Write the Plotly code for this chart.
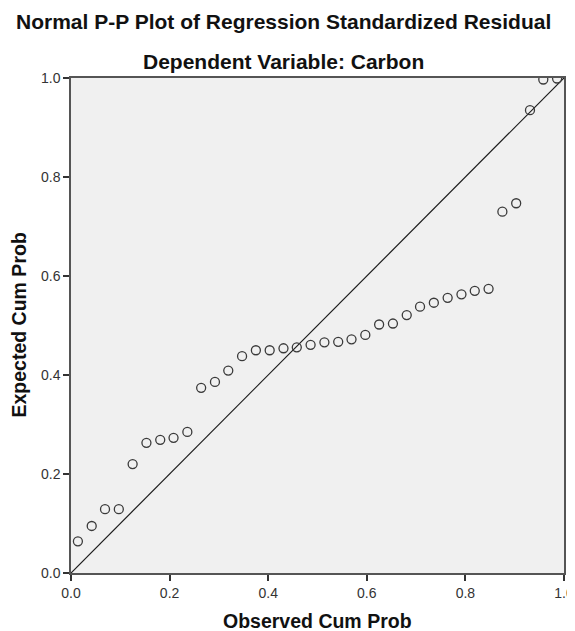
import plotly.graph_objects as go

observed = [0.014, 0.042, 0.069, 0.097, 0.125, 0.153, 0.181, 0.208, 0.236, 0.264,
            0.292, 0.319, 0.347, 0.375, 0.403, 0.431, 0.458, 0.486, 0.514, 0.542,
            0.569, 0.597, 0.625, 0.653, 0.681, 0.708, 0.736, 0.764, 0.792, 0.819,
            0.847, 0.875, 0.903, 0.931, 0.958, 0.986]
expected = [0.064, 0.095, 0.129, 0.129, 0.220, 0.263, 0.269, 0.273, 0.285, 0.374,
            0.386, 0.409, 0.438, 0.450, 0.450, 0.454, 0.456, 0.461, 0.466, 0.467,
            0.472, 0.481, 0.502, 0.504, 0.521, 0.538, 0.546, 0.556, 0.563, 0.570,
            0.574, 0.730, 0.747, 0.935, 0.997, 0.999]
ref_line = [0.0, 1.0]
tick_vals = [0.0, 0.2, 0.4, 0.6, 0.8, 1.0]

FONT = "Liberation Sans, Arial, sans-serif"

fig = go.Figure()
fig.add_trace(go.Scatter(x=ref_line, y=ref_line, mode="lines",
                         line=dict(color="#1a1a1a", width=1.2), hoverinfo="skip"))
fig.add_trace(go.Scatter(x=observed, y=expected, mode="markers",
                         marker=dict(symbol="circle-open", size=9,
                                     color="#3a3a3a", line=dict(width=1.3, color="#3a3a3a"))))

axis_common = dict(range=[0, 1], tickvals=tick_vals, tickformat=".1f",
                   showline=True, linecolor="#555555", linewidth=1.5, mirror=True,
                   ticks="outside", ticklen=6, tickwidth=1.5, tickcolor="#333333",
                   showgrid=False, zeroline=False, automargin=False,
                   tickfont=dict(family=FONT, size=14, color="#333333"))

def label(text, x, y, xshift, yshift, size, angle=0):
    return dict(text=text, xref="paper", yref="paper", x=x, y=y,
                xshift=xshift, yshift=yshift, xanchor="center", yanchor="middle",
                showarrow=False, textangle=angle,
                font=dict(family=FONT, size=size, color="#111111"))

# the page body adds an 8px offset, so the figure is sized to compensate
fig.update_layout(
    width=567, height=623,
    margin=dict(l=63, r=11, t=70, b=58),
    paper_bgcolor="white", plot_bgcolor="#F0F0F0",
    showlegend=False,
    xaxis=axis_common,
    yaxis=axis_common,
    annotations=[
        label("<b>Normal P-P Plot of Regression Standardized Residual</b>", 0.5, 1, -34, 57, 21),
        label("<b>Dependent Variable: Carbon</b>", 0.5, 1, -34, 17, 21),
        label("<b>Observed Cum Prob</b>", 0.5, 0, 0, -48, 19.5),
        label("<b>Expected Cum Prob</b>", 0, 0.5, -53, 0, 19.5, -90),
    ],
)

fig.write_html("out.html")
